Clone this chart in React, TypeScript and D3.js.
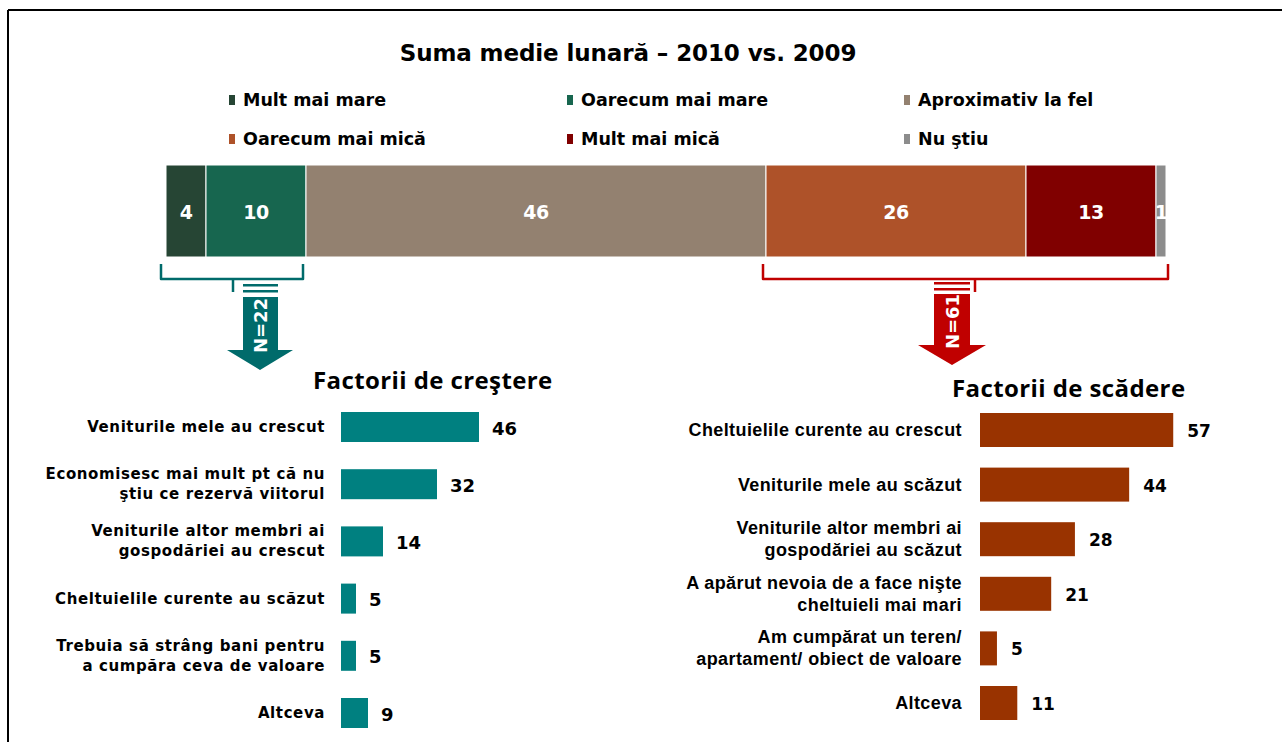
import React from "react";
import * as d3 from "d3";

const title = "Suma medie lunară – 2010 vs. 2009";
const stackCategories = ["Mult mai mare", "Oarecum mai mare", "Aproximativ la fel", "Oarecum mai mică", "Mult mai mică", "Nu ştiu"];
const stackValues = [4, 10, 46, 26, 13, 1];
const stackColors = ["#264534", "#17664F", "#938170", "#AE5229", "#800000", "#8C8C8C"];

const growthTitle = "Factorii de creştere";
const growthLabels = [
  ["Veniturile mele au crescut"],
  ["Economisesc mai mult pt că nu", "ştiu ce rezervă viitorul"],
  ["Veniturile altor membri ai", "gospodăriei au crescut"],
  ["Cheltuielile curente au scăzut"],
  ["Trebuia să strâng bani pentru", "a cumpăra ceva de valoare"],
  ["Altceva"],
];
const growthValues = [46, 32, 14, 5, 5, 9];
const growthN = "N=22";

const declineTitle = "Factorii de scădere";
const declineLabels = [
  ["Cheltuielile curente au crescut"],
  ["Veniturile mele au scăzut"],
  ["Veniturile altor membri ai", "gospodăriei au scăzut"],
  ["A apărut nevoia de a face nişte", "cheltuieli mai mari"],
  ["Am cumpărat un teren/", "apartament/ obiect de valoare"],
  ["Altceva"],
];
const declineValues = [57, 44, 28, 21, 5, 11];
const declineN = "N=61";

const TEAL = "#006B6B";
const RED = "#C00000";

export default function App() {
  const W = 1282, H = 742;
  const xs = d3.scaleLinear().domain([0, 100]).range([166, 1166]);
  const stack = stackValues.map((v, i) => {
    const start = d3.sum(stackValues.slice(0, i));
    return { v, i, x0: xs(start), x1: xs(start + v) };
  });

  const gIdx = growthValues.map((_, i) => i);
  const gy = d3.scalePoint<number>().domain(gIdx).range([427, 713]);
  const gx = d3.scaleLinear().domain([0, 100]).range([341, 641]);

  const dIdx = declineValues.map((_, i) => i);
  const dy = d3.scalePoint<number>().domain(dIdx).range([430, 703]);
  const dx = d3.scaleLinear().domain([0, 100]).range([980, 1319]);

  const legendX = [231, 569, 906];
  const legendY = [100, 139];

  const bracketT = { x0: 161, x1: 303, top: 264, bot: 279, mid: 233 };
  const bracketR = { x0: 763, x1: 1168, top: 264, bot: 279, mid: 975 };

  const arrow = (sx0: number, sx1: number, l1: number, l2: number, s0: number, s1: number, hx0: number, hx1: number, tip: number, color: string, label: string) => {
    const cx = (hx0 + hx1) / 2;
    return (
      <g>
        <rect x={sx0} y={l1 - 1} width={sx1 - sx0} height={2.5} fill={color} />
        <rect x={sx0} y={l2 - 1} width={sx1 - sx0} height={2.5} fill={color} />
        <path d={`M${sx0},${s0} L${sx1},${s0} L${sx1},${s1} L${hx1},${s1} L${cx},${tip} L${hx0},${s1} L${sx0},${s1} Z`} fill={color} />
        <text transform={`translate(${(sx0 + sx1) / 2},${(s0 + s1) / 2 + 2}) rotate(-90)`} textAnchor="middle" dominantBaseline="central"
          fill="#fff" fontFamily="DejaVu Sans" fontWeight="bold" fontSize={18}>{label}</text>
      </g>
    );
  };

  return (
    <svg width={W} height={H} style={{ position: "absolute", left: 0, top: 0, background: "#fff" }}>
      <rect x={0} y={0} width={W} height={H} fill="#fff" />
      <line x1={8} y1={10} x2={W} y2={10} stroke="#000" strokeWidth={2} />
      <line x1={8} y1={10} x2={8} y2={H} stroke="#000" strokeWidth={2} />

      <text x={628} y={61} textAnchor="middle" fontFamily="DejaVu Sans" fontWeight="bold" fontSize={23} fill="#000" letterSpacing={-0.1}>{title}</text>

      {stackCategories.map((c, i) => {
        const x = legendX[i % 3];
        const y = legendY[Math.floor(i / 3)];
        return (
          <g key={c}>
            <rect x={x - 2} y={y - 5} width={6} height={10} fill={stackColors[i]} />
            <text x={x + 12} y={y} dominantBaseline="central" fontFamily="DejaVu Sans" fontWeight="bold" fontSize={17.5} fill="#000">{c}</text>
          </g>
        );
      })}

      {stack.map((s) => (
        <g key={s.i}>
          <rect x={s.x0} y={165} width={s.x1 - s.x0} height={92} fill={stackColors[s.i]} stroke="#fff" strokeWidth={1} />
          <text x={(s.x0 + s.x1) / 2} y={212} textAnchor="middle" dominantBaseline="central" fill="#fff"
            fontFamily="DejaVu Sans" fontWeight="bold" fontSize={19} letterSpacing={-0.5}>{s.v}</text>
        </g>
      ))}

      <path d={`M${bracketT.x0},${bracketT.top} L${bracketT.x0},${bracketT.bot} L${bracketT.x1},${bracketT.bot} L${bracketT.x1},${bracketT.top} M${bracketT.mid},${bracketT.bot} L${bracketT.mid},${bracketT.bot + 13}`}
        fill="none" stroke={TEAL} strokeWidth={2.5} strokeLinejoin="round" />
      <path d={`M${bracketR.x0},${bracketR.top} L${bracketR.x0},${bracketR.bot} L${bracketR.x1},${bracketR.bot} L${bracketR.x1},${bracketR.top} M${bracketR.mid},${bracketR.bot} L${bracketR.mid},${bracketR.bot + 13}`}
        fill="none" stroke={RED} strokeWidth={2.5} strokeLinejoin="round" />

      {arrow(243, 278, 285, 291, 297, 350, 227, 293, 370, TEAL, growthN)}
      {arrow(934, 970, 283, 289, 294, 345, 918, 986, 365, RED, declineN)}

      <text x={313} y={389} fontFamily="Open Sans" fontWeight="bold" fontSize={24} letterSpacing={0.4} fill="#000">{growthTitle}</text>
      <text x={952} y={397} fontFamily="Open Sans" fontWeight="bold" fontSize={24} letterSpacing={0.4} fill="#000">{declineTitle}</text>

      {growthValues.map((v, i) => {
        const cy = gy(i)!;
        const lines = growthLabels[i];
        return (
          <g key={i}>
            <rect x={gx(0)} y={cy - 15} width={gx(v) - gx(0)} height={30} fill="#008080" />
            <text x={gx(v) + 13} y={cy + 1} dominantBaseline="central" fontFamily="DejaVu Sans" fontWeight="bold" fontSize={18} fill="#000">{v}</text>
            {lines.map((l, j) => (
              <text key={j} x={325} y={cy + (j - (lines.length - 1) / 2) * 20} textAnchor="end" dominantBaseline="central"
                fontFamily="DejaVu Sans" fontWeight="bold" fontSize={15} letterSpacing={0.6} fill="#000">{l}</text>
            ))}
          </g>
        );
      })}

      {declineValues.map((v, i) => {
        const cy = dy(i)!;
        const lines = declineLabels[i];
        return (
          <g key={i}>
            <rect x={dx(0)} y={cy - 17} width={dx(v) - dx(0)} height={34} fill="#993300" />
            <text x={dx(v) + 14} y={cy + 1} dominantBaseline="central" fontFamily="DejaVu Sans" fontWeight="bold" fontSize={17} fill="#000">{v}</text>
            {lines.map((l, j) => (
              <text key={j} x={962} y={cy + (j - (lines.length - 1) / 2) * 22} textAnchor="end" dominantBaseline="central"
                fontFamily="Liberation Sans" fontWeight="bold" fontSize={18} letterSpacing={0.4} fill="#000">{l}</text>
            ))}
          </g>
        );
      })}
    </svg>
  );
}
